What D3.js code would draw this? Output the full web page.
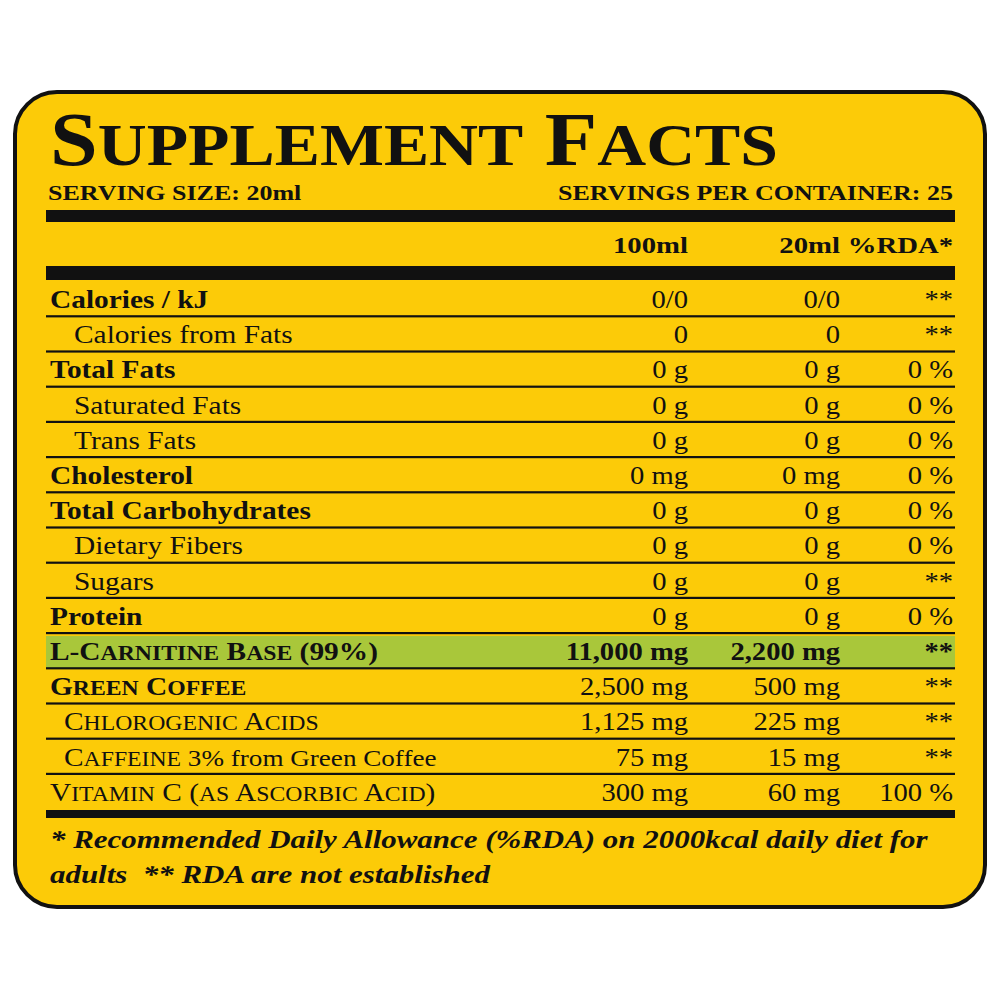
<!DOCTYPE html>
<html><head><meta charset="utf-8">
<script src="https://cdn.jsdelivr.net/npm/d3@7"></script>
<style>body{margin:0;background:#fff}svg{display:block}text{font-family:"Liberation Serif","DejaVu Serif",serif;fill:#111}</style>
</head><body><svg id="c" width="1000" height="1000"></svg>
<script>
const names = ["Calories / kJ","Calories from Fats","Total Fats","Saturated Fats","Trans Fats","Cholesterol","Total Carbohydrates","Dietary Fibers","Sugars","Protein","L-Carnitine Base (99%)","Green Coffee","Chlorogenic Acids","Caffeine","Vitamin C (as Ascorbic Acid)"];
const nameSuffix = ["","","","","","","","","","","","",""," 3% from Green Coffee",""];
const per100 = ["0/0","0","0 g","0 g","0 g","0 mg","0 g","0 g","0 g","0 g","11,000 mg","2,500 mg","1,125 mg","75 mg","300 mg"];
const per20 = ["0/0","0","0 g","0 g","0 g","0 mg","0 g","0 g","0 g","0 g","2,200 mg","500 mg","225 mg","15 mg","60 mg"];
const rda = ["**","**","0 %","0 %","0 %","0 %","0 %","0 %","**","0 %","**","**","**","**","100 %"];
const bold = [1,0,1,0,0,1,1,0,0,1,1,1,0,0,0];
const boldVals = [0,0,0,0,0,0,0,0,0,0,1,0,0,0,0];
const indent = [0,1,0,1,1,0,0,1,1,0,0,0,1,1,0];
const smallCaps = [0,0,0,0,0,0,0,0,0,0,1,1,1,1,1];
const highlight = [0,0,0,0,0,0,0,0,0,0,1,0,0,0,0];
const columns = ["100ml","20ml","%RDA*"];

const svg = d3.select("#c");
function txt(sel,x,y,size,sx,anchor,weight,style){
  return sel.append("text").attr("transform",`translate(${x},${y}) scale(${sx},1)`)
    .attr("font-size",size).attr("text-anchor",anchor||"start")
    .attr("font-weight",weight||"normal").attr("font-style",style||"normal");
}
// manual small caps: capitals full size, other letters uppercased smaller
function smallCapsInto(t,str,size,small){
  const parts = str.match(/([A-Z0-9(%)\-\s\/]+|[a-z]+)/g) || [];
  parts.forEach(p=>{
    const lower = /^[a-z]+$/.test(p);
    t.append("tspan").attr("font-size",lower?small:size).text(lower?p.toUpperCase():p);
  });
}

svg.append("rect").attr("x",15).attr("y",92).attr("width",970).attr("height",815).attr("rx",42)
  .attr("fill","#fccb08").attr("stroke","#111").attr("stroke-width",4);

const title = txt(svg,50,165,76,1.13,"start","bold");
smallCapsInto(title,"Supplement Facts",76,60);
txt(svg,48,200,20,1.3,"start","bold").text("SERVING SIZE: 20ml");
txt(svg,953,200,20,1.3,"end","bold").text("SERVINGS PER CONTAINER: 25");

const L=46, R=955;
svg.append("rect").attr("x",L).attr("y",210).attr("width",R-L).attr("height",12).attr("fill","#111");
svg.append("rect").attr("x",L).attr("y",266).attr("width",R-L).attr("height",14).attr("fill","#111");
const colX = d3.scaleOrdinal().domain(columns).range([688,840,953]);
columns.forEach(c=>txt(svg,colX(c),253,23,1.25,"end","bold").text(c));

const y = d3.scaleLinear().domain([0,15]).range([281,281+35.2*15]);
const g = svg.append("g");
names.forEach((n,i)=>{
  if(highlight[i]) g.append("rect").attr("x",L).attr("y",y(i)+3).attr("width",R-L).attr("height",y(i+1)-y(i)-3).attr("fill","#a9c73a");
  if(i<names.length-1) g.append("rect").attr("x",L).attr("y",y(i+1)-1).attr("width",R-L).attr("height",2.2).attr("fill","#111");
  const base = y(i)+27;
  const t = txt(g,indent[i]?(smallCaps[i]?64:74):50,base,26,1.13,"start",bold[i]?"bold":"normal");
  if(smallCaps[i]) smallCapsInto(t,n,26,21); else t.text(n);
  if(nameSuffix[i]) t.append("tspan").attr("font-size",24).text(nameSuffix[i]);
  [per100[i],per20[i],rda[i]].forEach((v,k)=>txt(g,colX(columns[k]),base,26,1.1,"end",boldVals[i]?"bold":"normal").text(v));
});
svg.append("rect").attr("x",L).attr("y",y(15)+1).attr("width",R-L).attr("height",8).attr("fill","#111");
txt(svg,50,848,26,1.19,"start","bold","italic").text("* Recommended Daily Allowance (%RDA) on 2000kcal daily diet for");
txt(svg,50,883,26,1.19,"start","bold","italic").style("white-space","pre").text("adults  ** RDA are not established");
</script></body></html>
